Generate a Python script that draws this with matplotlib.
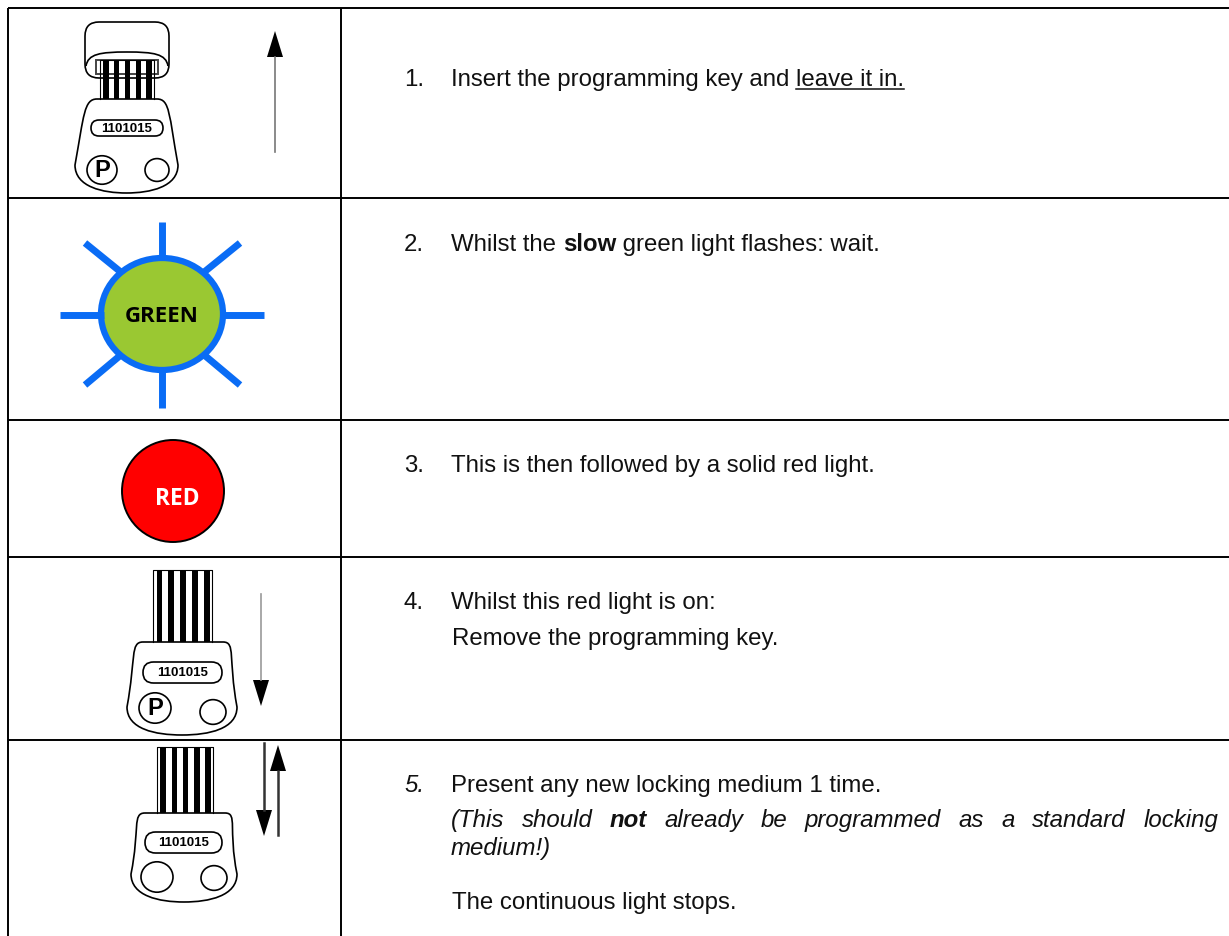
import matplotlib
matplotlib.use('Agg')
import matplotlib.pyplot as plt
from matplotlib.patches import Circle, Ellipse, FancyBboxPatch, PathPatch, Polygon, Rectangle
from matplotlib.path import Path

plt.rcParams['font.family'] = ['Liberation Sans', 'DejaVu Sans']

W, H = 1229, 936
FS = 17.25
KEY_CODES = ['1101015', '1101015', '1101015']
ROW_LINES = [8, 198, 420, 557, 740]
COL_LINES = [8, 341]

# number, baseline, text runs; a run is text + style
LINES = [
    ('1.', 86, [('Insert the programming key and ', ''), ('leave it in.', 'u')]),
    ('2.', 251, [('Whilst the ', ''), ('slow', 'b'), (' green light flashes: wait.', '')]),
    ('3.', 472, [('This is then followed by a solid red light.', '')]),
    ('4.', 609, [('Whilst this red light is on:', '')]),
]
PLAIN = [(452, 645, 'Remove the programming key.'), (452, 909, 'The continuous light stops.')]

fig = plt.figure(figsize=(W / 100, H / 100), dpi=100)
ax = fig.add_axes([0, 0, 1, 1])
ax.set_xlim(0, W)
ax.set_ylim(H, 0)
ax.axis('off')
rend = fig.canvas.get_renderer()


def measure(s, style):
    # the bars keep the spaces at both ends inside the extent
    kw = dict(fontsize=FS, fontweight='bold' if 'b' in style else 'normal',
              fontstyle='italic' if 'i' in style else 'normal')
    a = ax.text(0, 0, '|' + s + '|', **kw)
    b = ax.text(0, 0, '||', **kw)
    w = a.get_window_extent(rend).width - b.get_window_extent(rend).width
    a.remove()
    b.remove()
    return w


def put(x, y, s, style=''):
    ax.text(x, y, s, fontsize=FS, va='baseline', ha='left', color='#111111',
            fontweight='bold' if 'b' in style else 'normal',
            fontstyle='italic' if 'i' in style else 'normal')
    w = measure(s, style)
    if 'u' in style:
        ax.plot([x, x + w], [y + 3, y + 3], color='#111111', lw=1.1)
    return x + w


def justify(x0, x1, y, parts):
    # words spread evenly between x0 and x1
    widths = [measure(s, st) for s, st in parts]
    gap = (x1 - x0 - sum(widths)) / (len(parts) - 1)
    x = x0
    for (s, st), w in zip(parts, widths):
        put(x, y, s, st)
        x += w + gap


def arrow(x, y0, y1, hw=8, hl=26, color='#777777', lw=1.2):
    # y0 tail, y1 tip
    d = 1 if y1 > y0 else -1
    ax.plot([x, x], [y0, y1 - d * hl], color=color, lw=lw)
    ax.add_patch(Polygon([(x - hw, y1 - d * hl), (x + hw, y1 - d * hl), (x, y1)], fc='black', ec='none'))


def key(xl, xr, ytop, ybot, tl, tr, sx0, sx1, sy0, pill, c1, c2, code, with_p=True):
    lw = 1.2
    mid = (xl + xr) / 2
    # stripes of the shaft
    ax.plot([sx0, sx0, sx1, sx1], [ytop, sy0, sy0, ytop], color='black', lw=0.8)
    step = (sx1 - sx0) / 5
    for i in range(5):
        ax.add_patch(Rectangle((sx0 + i * step + step * 0.3, sy0), step * 0.5, ytop - sy0, fc='black', ec='none'))
    # body outline
    verts = [(tl, ytop), (tr, ytop),
             (tr + 13, ytop), (xr - 9, ytop + 16), (xr, ybot - 28),
             (xr, ybot - 6), (xr - 28, ybot), (mid, ybot),
             (xl + 28, ybot), (xl, ybot - 6), (xl, ybot - 28),
             (xl + 9, ytop + 16), (tl - 13, ytop), (tl, ytop)]
    codes = [Path.MOVETO, Path.LINETO] + [Path.CURVE4] * 12
    ax.add_patch(PathPatch(Path(verts, codes), fc='white', ec='black', lw=lw))
    px0, py0, px1, py1 = pill
    r = (py1 - py0) / 2
    ax.add_patch(FancyBboxPatch((px0 + r, py0 + r), px1 - px0 - 2 * r, 0.01,
                                boxstyle='round,pad=%g,rounding_size=%g' % (r, r), fc='white', ec='black', lw=lw))
    ax.text((px0 + px1) / 2, (py0 + py1) / 2 + 0.5, code, fontsize=9.5, fontweight='bold', ha='center', va='center', color='black')
    ax.add_patch(Ellipse(c1[:2], c1[2] * 2, c1[2] * 1.9, fc='white', ec='black', lw=lw))
    ax.add_patch(Ellipse(c2[:2], c2[2] * 2, c2[2] * 1.9, fc='white', ec='black', lw=lw))
    if with_p:
        ax.text(c1[0], c1[1] + 0.5, 'P', fontsize=17, fontweight='bold', ha='center', va='center', color='black')


# table
for y in ROW_LINES:
    ax.plot([8, W], [y, y], color='black', lw=1.4, solid_capstyle='butt')
for x in COL_LINES:
    ax.plot([x, x], [8, H], color='black', lw=1.4, solid_capstyle='butt')

# first key with its cap
ax.add_patch(FancyBboxPatch((99, 36), 56, 28, boxstyle='round,pad=14,rounding_size=14', fc='white', ec='black', lw=1.2))
ax.add_patch(PathPatch(Path([(86, 66), (88, 54), (100, 52), (127, 52), (154, 52), (166, 54), (168, 66)],
                            [Path.MOVETO] + [Path.CURVE4] * 6), fc='none', ec='black', lw=1.2))
ax.add_patch(Rectangle((96, 60), 62, 14, fc='white', ec='#444444', lw=1.4))
key(75, 178, 99, 193, 97, 157, 100, 154, 60, (91, 120, 163, 136), (102, 170, 15), (157, 170, 12), KEY_CODES[0])
arrow(275, 152, 31)

# green light
for seg in [((162, 222), (162, 260)), ((162, 368), (162, 408)), ((60, 315), (104, 315)), ((220, 315), (264, 315)),
            ((85, 243), (122, 273)), ((240, 243), (203, 273)), ((85, 385), (122, 354)), ((240, 385), (203, 354))]:
    ax.plot(*zip(*seg), color='#0A6CF5', lw=5, solid_capstyle='butt')
ax.add_patch(Ellipse((162, 314), 122, 112, fc='#9AC832', ec='#0A6CF5', lw=4.5))
ax.text(162, 317, 'GREEN', fontsize=16, fontweight='bold', family='Open Sans', ha='center', va='center', color='black')

# red light
ax.add_patch(Circle((173, 491), 51, fc='#FF0000', ec='black', lw=1.4))
ax.text(177, 499, 'RED', fontsize=16.5, fontweight='bold', family='Open Sans', ha='center', va='center', color='white')

# keys in lower rows
key(127, 237, 642, 735, 143, 223, 153, 212, 570, (143, 662, 222, 683), (155, 708, 16), (213, 712, 13), KEY_CODES[1])
arrow(261, 594, 706, color='#999999')
key(131, 237, 813, 902, 145, 225, 157, 213, 747, (145, 832, 222, 853), (157, 877, 16), (214, 878, 13), KEY_CODES[2], with_p=False)
arrow(264, 743, 836, color='#333333', lw=1.8)
arrow(278, 835, 745, color='#333333', lw=1.8)

# text
for num, y, parts in LINES:
    put(404, y, num)
    x = 451
    for s, style in parts:
        x = put(x, y, s, style)
for x, y, s in PLAIN:
    put(x, y, s)
put(404, 792, '5.', 'i')
put(451, 792, 'Present any new locking medium 1 time.')
justify(451, 1218, 827, [('(This', 'i'), ('should', 'i'), ('not', 'bi'), ('already', 'i'), ('be', 'i'), ('programmed', 'i'),
                         ('as', 'i'), ('a', 'i'), ('standard', 'i'), ('locking', 'i')])
put(451, 855, 'medium!)', 'i')

fig.savefig('out.png', dpi=100)
